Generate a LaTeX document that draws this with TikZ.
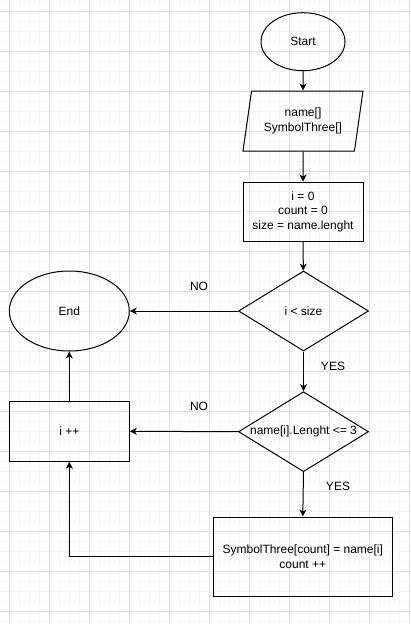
\documentclass[tikz,border=0pt]{standalone}
\usepackage{fontspec}
\setmainfont{Liberation Sans}
\usetikzlibrary{shapes.geometric, arrows.meta}

\tikzset{
  flowline/.style = {line width=1pt, -{Stealth[length=7pt, width=7pt, inset=2pt]}},
  terminal/.style = {ellipse, draw, line width=1pt, inner sep=0pt},
  process/.style = {rectangle, draw, line width=1pt, inner sep=0pt, align=center},
  decision/.style = {diamond, draw, line width=1pt, inner sep=0pt, aspect=1.625,
    minimum width=130pt, minimum height=80pt},
  inout/.style = {trapezium, draw, line width=1pt, inner sep=0pt, align=center,
    trapezium left angle=71.57, trapezium right angle=108.43,
    trapezium stretches body, minimum width=120pt, minimum height=60pt},
  answer/.style = {inner sep=0pt}
}

\begin{document}
\begin{tikzpicture}[x=1pt, y=-1pt, font=\fontsize{12}{14.5}\selectfont]
\useasboundingbox (0, 0) rectangle (411, 624);
\fill[white] (0, 0) rectangle (411, 624);
\foreach \gx in {-0.5, 9.5, ..., 411} \draw[black!4, line width=0.8pt] (\gx, 0) -- (\gx, 624);
\foreach \gy in {1.7, 11.7, ..., 624} \draw[black!4, line width=0.8pt] (0, \gy) -- (411, \gy);
\foreach \gx in {9.5, 49.5, ..., 411} \draw[black!12, line width=0.8pt] (\gx, 0) -- (\gx, 624);
\foreach \gy in {11.7, 51.7, ..., 624} \draw[black!12, line width=0.8pt] (0, \gy) -- (411, \gy);

\node[terminal, minimum width=84pt, minimum height=58pt] (start) at (303, 41.7) {Start};
\node[inout] (input) at (303, 121) {name[]\\SymbolThree[]};
\node[process, minimum width=120pt, minimum height=59pt] (init) at (303, 211.5) {i = 0\\count = 0\\size = name.lenght};
\node[decision] (loop) at (303.5, 311) {i < size};
\node[terminal, minimum width=120pt, minimum height=80pt] (stop) at (69.3, 311) {End};
\node[decision] (check) at (303.5, 431.7) {name[i].Lenght <= 3};
\node[process, minimum width=120pt, minimum height=60pt] (incr) at (69.3, 431.3) {i ++};
\node[process, minimum width=179pt, minimum height=79pt] (store) at (302.8, 556.5) {SymbolThree[count] = name[i]\\count ++};

\draw[flowline] (start) -- (input);
\draw[flowline] (input) -- (init);
\draw[flowline] (init) -- (loop);
\draw[flowline] (loop.west) -- (stop.east);
\draw[flowline] (loop.south) -- (check.north);
\draw[flowline] (check.west) -- (incr.east);
\draw[flowline] (incr.north) -- (stop.south);
\draw[flowline] (check.south) -- (store.north);
\draw[flowline] (store.west) -| (incr.south);

\node[answer] (noloop) at (199, 286) {NO};
\node[answer] (yesloop) at (333, 366) {YES};
\node[answer] (nocheck) at (199, 406) {NO};
\node[answer] (yescheck) at (338, 486) {YES};
\end{tikzpicture}
\end{document}
